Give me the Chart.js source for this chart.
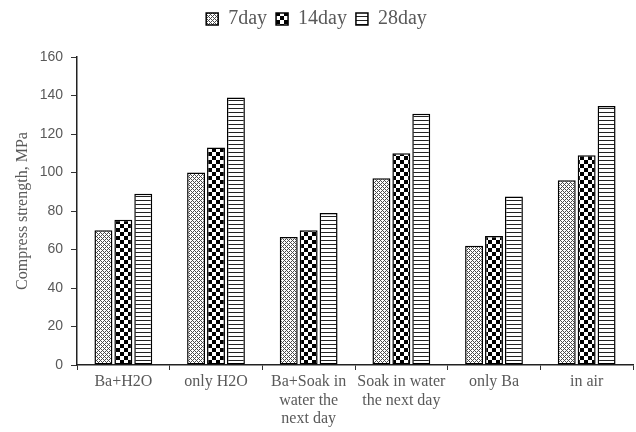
<!DOCTYPE html>
<html>
<head>
<meta charset="utf-8">
<script src="https://cdn.jsdelivr.net/npm/chart.js@4/dist/chart.umd.min.js"></script>
<style>
html,body{margin:0;padding:0;background:#fff;}
#wrap{width:636px;height:432px;}
</style>
</head>
<body>
<div id="wrap"><canvas id="c" width="636" height="432"></canvas></div>
<script>
const categories = ['Ba+H2O', 'only H2O', ['Ba+Soak in', 'water the', 'next day'], ['Soak in water', 'the next day'], 'only Ba', 'in air'];
const seriesNames = ['7day', '14day', '28day'];
const day7 = [70, 100, 66.5, 97, 62, 96];
const day14 = [75.5, 113, 70, 110, 67, 109];
const day28 = [89, 139, 79, 130.5, 87.5, 134.5];
const yTicks = [0, 20, 40, 60, 80, 100, 120, 140, 160];

function makePattern(kind) {
  const t = document.createElement('canvas');
  const ctx = t.getContext('2d');
  if (kind === 'cross') {
    t.width = 4; t.height = 4;
    ctx.fillStyle = '#ffffff'; ctx.fillRect(0, 0, 4, 4);
    ctx.fillStyle = '#4a4a4a';
    for (let y = 0; y < 4; y++) for (let x = 0; x < 4; x++) {
      if ((x + y) % 4 === 0 || ((x - y + 4) % 4) === 0) ctx.fillRect(x, y, 1, 1);
    }
  } else if (kind === 'check') {
    t.width = 8; t.height = 8;
    ctx.fillStyle = '#ffffff'; ctx.fillRect(0, 0, 8, 8);
    ctx.fillStyle = '#000000';
    ctx.fillRect(0, 0, 4, 4); ctx.fillRect(4, 4, 4, 4);
  } else {
    t.width = 4; t.height = 4;
    ctx.fillStyle = '#ffffff'; ctx.fillRect(0, 0, 4, 4);
    ctx.fillStyle = '#222222';
    ctx.fillRect(0, 0, 4, 1);
  }
  return document.getElementById('c').getContext('2d').createPattern(t, 'repeat');
}

const patterns = [makePattern('cross'), makePattern('check'), makePattern('stripe')];
const values = [day7, day14, day28];

const legendFix = {
  id: 'legendFix',
  beforeInit(chart) {
    const lg = chart.legend;
    if (lg) {
      const orig = lg.fit;
      lg.fit = function () { orig.call(this); this.height = 57; };
    }
  }
};

new Chart(document.getElementById('c'), {
  type: 'bar',
  data: {
    labels: categories,
    datasets: seriesNames.map((n, i) => ({
      label: n,
      data: values[i],
      backgroundColor: patterns[i],
      borderColor: '#000000',
      borderWidth: 1.5,
      borderSkipped: false,
      barPercentage: 0.9,
      categoryPercentage: 0.645
    }))
  },
  options: {
    responsive: false,
    animation: false,
    devicePixelRatio: 1,
    layout: { padding: { left: 0, right: 3, top: 0, bottom: 0 } },
    plugins: {
      legend: {
        position: 'top',
        labels: {
          boxWidth: 12,
          boxHeight: 12,
          padding: 9,
          color: '#595959',
          font: { family: 'Liberation Serif', size: 20, lineHeight: 1 }
        }
      },
      tooltip: { enabled: false }
    },
    scales: {
      x: {
        afterFit(s) { s.height = 67; },
        grid: { drawOnChartArea: false, drawTicks: true, tickLength: 5, color: '#333333', offset: true },
        border: { display: true, color: '#222222', width: 1.5 },
        ticks: {
          color: '#595959',
          padding: 3,
          maxRotation: 0,
          autoSkip: false,
          font: { family: 'Liberation Serif', size: 16, lineHeight: 1.15 }
        }
      },
      y: {
        min: 0,
        max: 160,
        afterFit(s) { s.width = 77; },
        afterBuildTicks(s) { s.ticks = yTicks.map(v => ({ value: v })); },
        grid: { drawOnChartArea: false, drawTicks: true, tickLength: 6, color: '#333333' },
        border: { display: true, color: '#222222', width: 1.5 },
        ticks: {
          color: '#595959',
          padding: 8,
          font: { family: 'Liberation Sans', size: 14 }
        },
        title: {
          display: true,
          text: 'Compress strength, MPa',
          color: '#595959',
          padding: { top: 13, bottom: 0 },
          font: { family: 'Liberation Serif', size: 16 }
        }
      }
    }
  },
  plugins: [legendFix]
});
</script>
</body>
</html>
